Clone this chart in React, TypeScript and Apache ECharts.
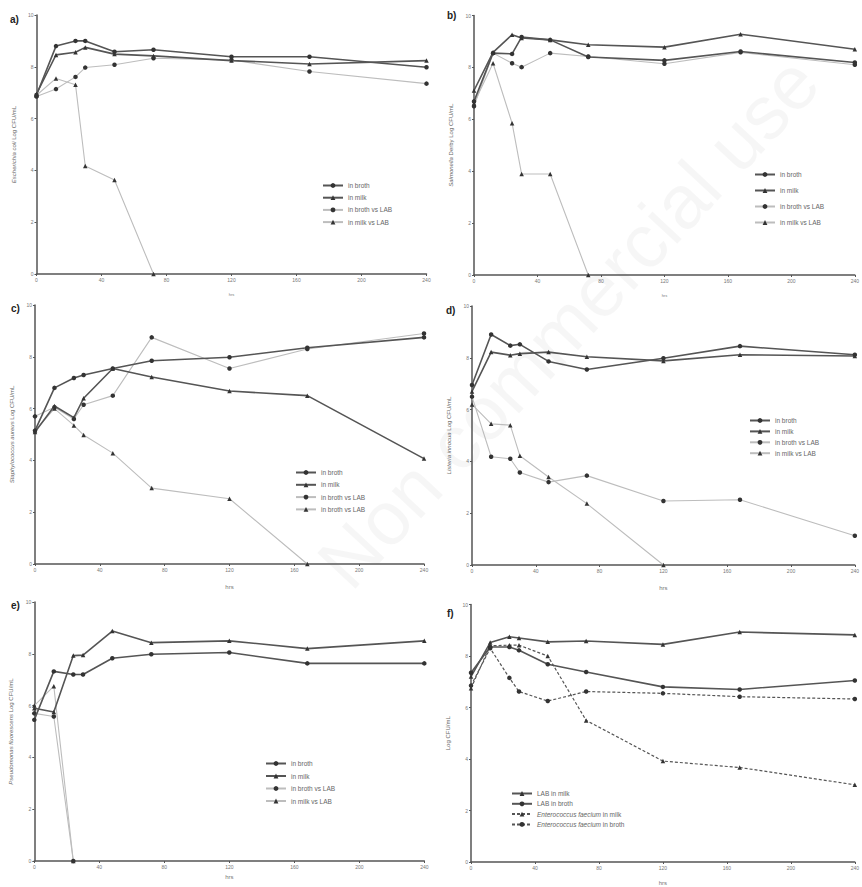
import React, { useEffect, useRef } from 'react';
import * as echarts from 'echarts';

// ---- data ----
const hours = [0, 12, 24, 30, 48, 72, 120, 168, 240];
const xTicks = [0, 40, 80, 120, 160, 200, 240];

// a) Escherichia coli
const aBroth = [6.91, 8.8, 9.0, 9.0, 8.58, 8.66, 8.39, 8.39, 7.98];
const aMilk = [6.95, 8.46, 8.56, 8.75, 8.49, 8.42, 8.24, 8.11, 8.24];
const aBrothLAB = [6.85, 7.14, 7.61, 7.97, 8.08, 8.33, 8.26, 7.82, 7.35];
const aMilkLAB = [6.9, 7.55, 7.31, 4.17, 3.63, 0];

// b) Salmonella Derby
const bBroth = [6.69, 8.55, 8.52, 9.17, 9.06, 8.4, 8.27, 8.61, 8.19];
const bMilk = [7.11, 8.58, 9.26, 9.13, 9.06, 8.87, 8.78, 9.28, 8.7];
const bBrothLAB = [6.5, 8.55, 8.16, 8.01, 8.55, 8.42, 8.14, 8.58, 8.1];
const bMilkLAB = [6.62, 8.16, 5.85, 3.89, 3.89, 0];

// c) Staphylococcus aureus
const cBroth = [5.15, 6.8, 7.18, 7.3, 7.55, 7.85, 7.98, 8.35, 8.75];
const cMilk = [5.1, 6.1, 5.65, 6.4, 7.55, 7.22, 6.68, 6.5, 4.07];
const cBrothLAB = [5.7, 6.05, 5.6, 6.15, 6.5, 8.75, 7.55, 8.3, 8.9];
const cMilkLAB = [5.15, 6.0, 5.35, 4.98, 4.28, 2.93, 2.52, 0];

// d) Listeria innocua
const dBroth = [6.95, 8.9, 8.47, 8.52, 7.86, 7.55, 7.98, 8.45, 8.12];
const dMilk = [6.7, 8.22, 8.1, 8.16, 8.22, 8.04, 7.88, 8.12, 8.07];
const dBrothLAB = [6.5, 4.18, 4.1, 3.57, 3.2, 3.45, 2.47, 2.52, 1.13];
const dMilkLAB = [6.2, 5.45, 5.4, 4.22, 3.4, 2.37, 0];

// e) Pseudomonas fluorescens
const eBroth = [5.45, 7.32, 7.2, 7.2, 7.83, 7.98, 8.05, 7.63, 7.63];
const eMilk = [5.9, 5.75, 7.93, 7.95, 8.88, 8.43, 8.5, 8.2, 8.5];
const eBrothLAB = [5.7, 5.58, 0];
const eMilkLAB = [6.0, 6.75, 0];

// f) LAB / Enterococcus faecium
const fLabMilk = [7.2, 8.52, 8.75, 8.7, 8.55, 8.58, 8.45, 8.93, 8.82];
const fLabBroth = [7.35, 8.35, 8.35, 8.22, 7.68, 7.38, 6.8, 6.7, 7.05];
const fEfMilk = [6.75, 8.4, 8.42, 8.42, 8.0, 5.5, 3.92, 3.67, 3.0];
const fEfBroth = [6.85, 8.3, 7.15, 6.62, 6.25, 6.62, 6.55, 6.42, 6.33];

const legendStd = ['in broth', 'in milk', 'in broth vs LAB', 'in milk vs LAB'];
const legendC = ['in broth', 'in milk', 'in broth vs LAB', 'in broth vs LAB '];
const legendF = ['LAB in milk', 'LAB in broth', 'Enterococcus faecium in milk', 'Enterococcus faecium in broth'];

const panelLabels = ['a)', 'b)', 'c)', 'd)', 'e)', 'f)'];
const yNames = [
  '{i|Escherichia coli} Log CFU/mL',
  '{i|Salmonella} Derby Log CFU/mL',
  '{i|Staphylococcus aureus} Log CFU/mL',
  '{i|Listeria innocua} Log CFU/mL',
  '{i|Pseudomonas fluorescens} Log CFU/mL',
  'Log CFU/mL',
];

const FONT = 'Liberation Sans, Arial, sans-serif';

const grids = [
  { left: 36.5, top: 15, width: 390, height: 259 },
  { left: 474, top: 15.5, width: 386, height: 259.5 },
  { left: 35, top: 305, width: 389, height: 259 },
  { left: 472, top: 306, width: 390, height: 259 },
  { left: 34.3, top: 602, width: 390, height: 259 },
  { left: 471, top: 604.5, width: 386, height: 259 },
];
const labelPos = [
  [10, 14], [447, 10], [11, 303], [446, 305], [11, 600], [447, 608],
];
const xNameGap = [18, 18, 20, 20, 13, 18];
const xNameSize = [4, 4, 6, 6, 6, 6];
const legendPos = [
  { left: 317, top: 177, gap: 5.2 },
  { left: 749, top: 166, gap: 9 },
  { left: 290, top: 464, gap: 5.3 },
  { left: 744, top: 412, gap: 3.9 },
  { left: 260, top: 755, gap: 5.5 },
  { left: 506, top: 785, gap: 3.3 },
];

const pts = (ys: number[]) => ys.map((y, i) => [hours[i], y]);

type Kind = 'dark' | 'light' | 'dash';
function mk(name: string, ys: number[], gi: number, kind: Kind, symbol: string) {
  const color = kind === 'light' ? '#bdbdbd' : '#555555';
  return {
    type: 'line',
    name,
    xAxisIndex: gi,
    yAxisIndex: gi,
    data: pts(ys),
    symbol,
    symbolSize: 4.5,
    lineStyle: {
      color,
      width: kind === 'light' ? 1.1 : kind === 'dash' ? 1.2 : 1.6,
      type: kind === 'dash' ? [3, 2] : 'solid',
    },
    itemStyle: { color: '#333' },
    z: kind === 'light' ? 2 : 3,
  };
}

export default function App() {
  const ref = useRef<HTMLDivElement>(null);
  useEffect(() => {
    if (!ref.current) return;
    const chart = echarts.init(ref.current, undefined, { renderer: 'svg' });

    const xAxis = grids.map((_, gi) => ({
      gridIndex: gi,
      type: 'value',
      min: 0,
      max: 240,
      interval: 40,
      axisLine: { show: true, onZero: false, lineStyle: { color: '#555', width: 1.5 } },
      axisTick: { show: true, length: 2, lineStyle: { color: '#555' } },
      axisLabel: {
        fontSize: 5,
        color: '#777',
        margin: 3,
        fontFamily: FONT,
        formatter: (v: number) => (xTicks.includes(v) ? String(v) : ''),
      },
      splitLine: { show: false },
      name: 'hrs',
      nameLocation: 'middle',
      nameGap: xNameGap[gi],
      nameTextStyle: { fontSize: xNameSize[gi], color: '#777', fontFamily: FONT },
    }));

    const yAxis = grids.map((_, gi) => ({
      gridIndex: gi,
      type: 'value',
      min: 0,
      max: 10,
      interval: 2,
      axisLine: { show: true, onZero: false, lineStyle: { color: '#555', width: 1.5 } },
      axisTick: { show: true, length: 2, lineStyle: { color: '#555' } },
      axisLabel: { fontSize: 5, color: '#777', margin: 3, fontFamily: FONT },
      splitLine: { show: false },
      name: yNames[gi],
      nameLocation: 'middle',
      nameGap: 20,
      nameTextStyle: {
        fontSize: 6,
        color: '#666',
        fontFamily: FONT,
        rich: { i: { fontSize: 6, color: '#666', fontStyle: 'italic', fontFamily: FONT } },
      },
    }));

    const series = [
      mk('in broth', aBroth, 0, 'dark', 'circle'),
      mk('in milk', aMilk, 0, 'dark', 'triangle'),
      mk('in broth vs LAB', aBrothLAB, 0, 'light', 'circle'),
      mk('in milk vs LAB', aMilkLAB, 0, 'light', 'triangle'),

      mk('in broth', bBroth, 1, 'dark', 'circle'),
      mk('in milk', bMilk, 1, 'dark', 'triangle'),
      mk('in broth vs LAB', bBrothLAB, 1, 'light', 'circle'),
      mk('in milk vs LAB', bMilkLAB, 1, 'light', 'triangle'),

      mk('in broth', cBroth, 2, 'dark', 'circle'),
      mk('in milk', cMilk, 2, 'dark', 'triangle'),
      mk('in broth vs LAB', cBrothLAB, 2, 'light', 'circle'),
      mk('in broth vs LAB ', cMilkLAB, 2, 'light', 'triangle'),

      mk('in broth', dBroth, 3, 'dark', 'circle'),
      mk('in milk', dMilk, 3, 'dark', 'triangle'),
      mk('in broth vs LAB', dBrothLAB, 3, 'light', 'circle'),
      mk('in milk vs LAB', dMilkLAB, 3, 'light', 'triangle'),

      mk('in broth', eBroth, 4, 'dark', 'circle'),
      mk('in milk', eMilk, 4, 'dark', 'triangle'),
      mk('in broth vs LAB', eBrothLAB, 4, 'light', 'circle'),
      mk('in milk vs LAB', eMilkLAB, 4, 'light', 'triangle'),

      mk('LAB in milk', fLabMilk, 5, 'dark', 'triangle'),
      mk('LAB in broth', fLabBroth, 5, 'dark', 'circle'),
      mk('Enterococcus faecium in milk', fEfMilk, 5, 'dash', 'triangle'),
      mk('Enterococcus faecium in broth', fEfBroth, 5, 'dash', 'circle'),
    ];

    const legend = legendPos.map((lp, gi) => ({
      orient: 'vertical',
      left: lp.left,
      top: lp.top,
      itemGap: lp.gap,
      itemWidth: 20,
      itemHeight: 6,
      selectedMode: false,
      data: gi === 2 ? legendC : gi === 5 ? legendF : legendStd,
      textStyle: {
        fontSize: 6.5,
        color: '#666',
        fontFamily: FONT,
        rich: {
          i: { fontSize: 6.5, color: '#666', fontStyle: 'italic', fontFamily: FONT },
          n: { fontSize: 6.5, color: '#666', fontFamily: FONT },
        },
      },
      formatter:
        gi === 5
          ? (name: string) =>
              name.startsWith('Enterococcus faecium')
                ? '{i|Enterococcus faecium}{n|' + name.slice('Enterococcus faecium'.length) + '}'
                : name
          : undefined,
    }));

    const graphic: any[] = [
      {
        type: 'text',
        x: 568,
        y: 322,
        rotation: (47 * Math.PI) / 180,
        z: -10,
        silent: true,
        style: {
          text: 'Non commercial use',
          fontSize: 76,
          fontFamily: FONT,
          fill: 'rgba(0,0,0,0.035)',
          align: 'center',
          verticalAlign: 'middle',
        },
      },
      ...panelLabels.map((t, i) => ({
        type: 'text',
        x: labelPos[i][0],
        y: labelPos[i][1],
        style: { text: t, fontSize: 10, fontWeight: 'bold', fontFamily: FONT, fill: '#222' },
      })),
    ];

    chart.setOption({
      animation: false,
      backgroundColor: '#fff',
      grid: grids.map((g) => ({ ...g, containLabel: false })),
      xAxis,
      yAxis,
      legend,
      graphic,
      series,
    } as any);

    return () => chart.dispose();
  }, []);

  return (
    <div
      ref={ref}
      style={{ position: 'absolute', left: 0, top: 0, width: 862, height: 887 }}
    />
  );
}
